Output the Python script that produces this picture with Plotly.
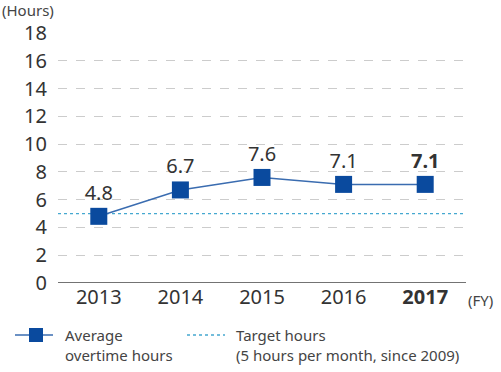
import plotly.graph_objects as go

years = ["2013", "2014", "2015", "2016", "2017"]
overtime = [4.8, 6.7, 7.6, 7.1, 7.1]
target = 5
yticks = [0, 2, 4, 6, 8, 10, 12, 14, 16, 18]
legend_overtime = "Average<br>overtime hours"
legend_target = "Target hours<br>(5 hours per month, since 2009)"

xpos = list(range(len(years)))
ticktext = years[:-1] + ["<b>" + years[-1] + "</b>"]
labels = [f"{v:.1f}" for v in overtime]
labels[-1] = "<b>" + labels[-1] + "</b>"

FONT = "Noto Sans"
LINE_C = "#3a6cb0"
MARK_C = "#0a4a9e"
TGT_C = "#45a8d0"

fig = go.Figure()
fig.add_trace(go.Scatter(
    x=[xpos[0] - 0.5, xpos[-1] + 0.5], y=[target, target], mode="lines",
    line=dict(color=TGT_C, width=1.3, dash="dot"), hoverinfo="skip",
    name="Target hours"))
fig.add_trace(go.Scatter(
    x=xpos, y=overtime, mode="lines+markers+text",
    line=dict(color=LINE_C, width=1.5),
    marker=dict(symbol="square", size=17, color=MARK_C),
    text=labels, textposition="top center",
    textfont=dict(size=20, color="#333333", family=FONT),
    name="Average overtime hours"))

L, R, T, B = 58, 35, 33, 89
W, H = 501, 372
pw, ph = W - L - R, H - T - B


def px(x):
    return (x - L) / pw


def py(y):
    return (H - B - y) / ph


fig.update_layout(
    width=W, height=H,
    margin=dict(l=L, r=R, t=T, b=B),
    plot_bgcolor="white", paper_bgcolor="white",
    font=dict(family=FONT, color="#333333"),
    showlegend=False,
    xaxis=dict(range=[-0.5, 4.5], tickvals=xpos, ticktext=ticktext,
               tickfont=dict(size=20, color="#333333"), showgrid=False,
               zeroline=False, showline=False, ticks="", automargin=False),
    yaxis=dict(range=[0, 18], tickvals=yticks, tickfont=dict(size=20, color="#333333"),
               showgrid=True, gridcolor="#cccccc", griddash="dash", gridwidth=1,
               zeroline=False, showline=False, ticks="", ticklabelstandoff=10,
               automargin=False),
)
fig.add_shape(type="line", xref="paper", yref="y", x0=0, x1=1, y0=0, y1=0,
              line=dict(color="#444444", width=1.5))
fig.add_annotation(text="(Hours)", xref="paper", yref="paper", x=px(0), y=py(10),
                   xanchor="left", yanchor="middle", showarrow=False,
                   font=dict(size=15, color="#444444"))
fig.add_annotation(text="(FY)", xref="paper", yref="paper", x=px(466), y=py(300),
                   xanchor="left", yanchor="middle", showarrow=False,
                   font=dict(size=15, color="#444444"))

# manual legend
ly = py(335)
fig.add_shape(type="line", xref="paper", yref="paper", x0=px(15), x1=px(53), y0=ly, y1=ly,
              line=dict(color=LINE_C, width=1.5))
fig.add_shape(type="rect", xref="paper", yref="paper", x0=px(29), x1=px(43),
              y0=py(342), y1=py(328), line=dict(width=0), fillcolor=MARK_C)
fig.add_shape(type="line", xref="paper", yref="paper", x0=px(187), x1=px(225), y0=ly, y1=ly,
              line=dict(color=TGT_C, width=1.3, dash="dot"))
fig.add_annotation(text=legend_overtime, xref="paper", yref="paper", x=px(63), y=py(345),
                   xanchor="left", yanchor="middle", align="left", showarrow=False,
                   font=dict(size=15, color="#444444"))
fig.add_annotation(text=legend_target, xref="paper", yref="paper", x=px(234), y=py(345),
                   xanchor="left", yanchor="middle", align="left", showarrow=False,
                   font=dict(size=15, color="#444444"))
fig.write_html("out.html", config={"displayModeBar": False},
               post_script="document.body.style.margin='0';")
